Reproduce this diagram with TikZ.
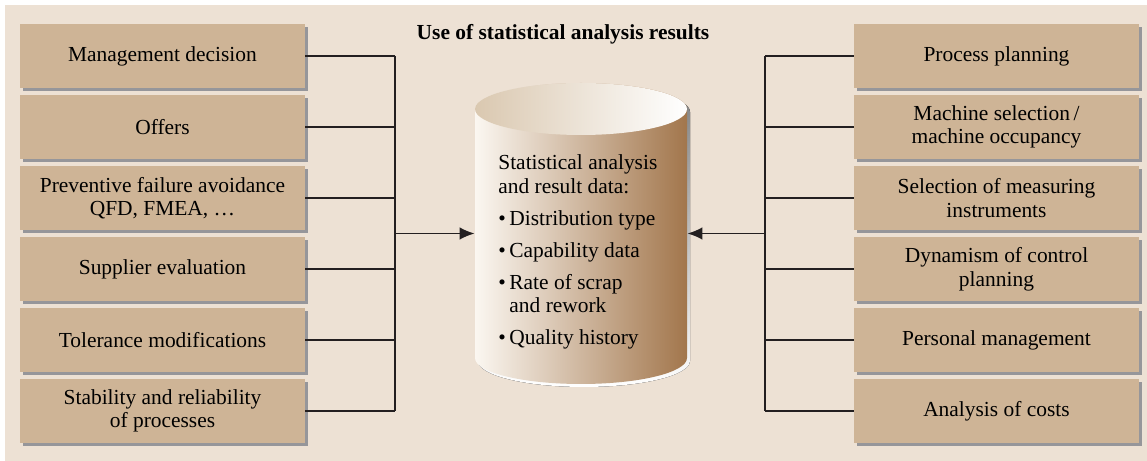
\documentclass[tikz,border=0pt]{standalone}
\usepackage{fontspec}
\setmainfont{Liberation Serif}
\usetikzlibrary{arrows.meta,positioning,shadows}

\definecolor{panel}{RGB}{237,225,212}
\definecolor{boxfill}{RGB}{206,180,150}
\definecolor{shade}{RGB}{150,150,154}
\definecolor{wire}{RGB}{35,31,32}
\definecolor{drumlight}{RGB}{251,247,241}
\definecolor{drummid}{RGB}{214,190,160}
\definecolor{drumdark}{RGB}{162,118,76}
\definecolor{drumtop}{RGB}{218,200,176}

\begin{document}
\begin{tikzpicture}[
            font=\fontsize{12.2}{13.4}\selectfont,
            node distance=1.42cm,
            item/.style={fill=boxfill,minimum width=5.7cm,minimum height=1.28cm,inner sep=2pt,align=center,
              drop shadow={shadow xshift=0.06cm,shadow yshift=-0.06cm,fill=shade,opacity=1}},
            bus/.style={draw=wire,line width=1pt},
            feed/.style={bus,-{Latex[length=0.3cm,width=0.25cm]}}
          ]
          \useasboundingbox (0,0) rectangle (22.94,-9.22);
          \fill[panel] (0.1,-0.1) rectangle (22.94,-9.22);

          \node[font=\fontsize{12.2}{14}\selectfont\bfseries] (title) at (11.26,-0.68) {Use of statistical analysis results};

          %inputs on the left
          \node[item] (l1) at (3.25,-1.12) {Management decision};
          \node[item,below of = l1] (l2) {Offers};
          \node[item,below of = l2] (l3) {Preventive failure avoidance\\QFD, FMEA, \dots};
          \node[item,below of = l3] (l4) {Supplier evaluation};
          \node[item,below of = l4] (l5) {Tolerance modifications};
          \node[item,below of = l5] (l6) {Stability and reliability\\of processes};

          %inputs on the right
          \node[item] (r1) at (19.93,-1.12) {Process planning};
          \node[item,below of = r1] (r2) {Machine selection\,/\\machine occupancy};
          \node[item,below of = r2] (r3) {Selection of measuring\\instruments};
          \node[item,below of = r3] (r4) {Dynamism of control\\planning};
          \node[item,below of = r4] (r5) {Personal management};
          \node[item,below of = r5] (r6) {Analysis of costs};

          %data base
          \fill[shade] (9.56,-2.24) -- (9.56,-7.22) arc[start angle=180,end angle=360,x radius=2.12,y radius=0.52]
            -- (13.80,-2.24) arc[start angle=0,end angle=180,x radius=2.12,y radius=0.52] -- cycle;
          \shade[left color=drumlight,middle color=drummid,right color=drumdark]
            (9.5,-2.18) -- (9.5,-7.16) arc[start angle=180,end angle=360,x radius=2.12,y radius=0.52]
            -- (13.74,-2.18) arc[start angle=0,end angle=180,x radius=2.12,y radius=0.52] -- cycle;
          \shade[left color=drumtop,right color=white] (11.62,-2.18) ellipse[x radius=2.12,y radius=0.52];
          \node[minimum width=4.24cm,minimum height=5cm,inner sep=0] (drum) at (11.62,-4.67) {};
          \node[anchor=north west,inner sep=0,align=left] (data) at (9.96,-3.09)
            {Statistical analysis\\and result data:\\[4.8pt]
             \textbullet\,Distribution type\\[4.8pt]
             \textbullet\,Capability data\\[4.8pt]
             \textbullet\,Rate of scrap\\\hphantom{\textbullet\,}and rework\\[4.8pt]
             \textbullet\,Quality history};

          %buses
          \coordinate (lbus) at (7.9,0);
          \coordinate (rbus) at (15.3,0);
          \foreach \i in {1,...,6} {
            \draw[bus] (l\i.east) -- (l\i.east -| lbus);
            \draw[bus] (r\i.west) -- (r\i.west -| rbus);
          }
          \path[bus]
          (l1.east -| lbus) edge (l6.east -| lbus)
          (r1.west -| rbus) edge (r6.west -| rbus)
          ;
          \draw[feed] (lbus |- drum.west) -- (drum.west);
          \draw[feed] (rbus |- drum.east) -- (drum.east);

      \end{tikzpicture}
\end{document}
